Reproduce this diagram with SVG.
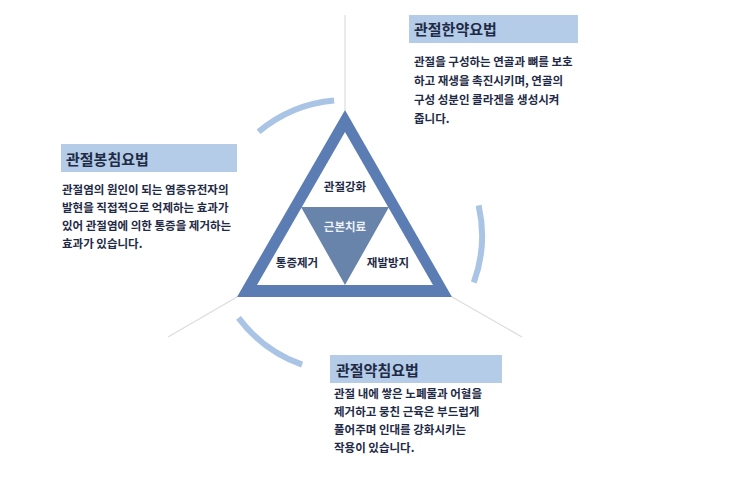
<svg xmlns="http://www.w3.org/2000/svg" width="740" height="477" viewBox="0 0 740 477">
<style>
.t{font-family:"Noto Sans CJK KR","Noto Sans",sans-serif;font-weight:700;fill:#1f2b46}
.title{font-size:15px}
.body{font-size:11.5px}
.lbl{font-size:11.5px;text-anchor:middle}
.box{fill:#b4cce8}
.arc{fill:none;stroke:#a9c4e4;stroke-width:6}
.ray{stroke:#dcdcdc;stroke-width:1.2;fill:none}
</style>
<rect width="740" height="477" fill="#ffffff"/>
<g id="connectors">
<line class="ray" x1="345" y1="15" x2="345" y2="110"/>
<line class="ray" x1="237" y1="297" x2="168" y2="337"/>
<line class="ray" x1="452" y1="297" x2="522" y2="337"/>
<path class="arc" d="M 258.6 131.8 A 136 136 0 0 1 334.1 100.5"/>
<path class="arc" d="M 478.6 205.4 A 136 136 0 0 1 473.8 282.5"/>
<path class="arc" d="M 238.5 317.9 A 136 136 0 0 0 302.1 364.7"/>
</g>
<g id="triangle">
<polygon points="345,110 452,297 237,297" fill="#5b7db3"/>
<polygon points="345,132 433,285 257,285" fill="#ffffff"/>
<polygon points="301,207 389,207 345,285" fill="#6884ab"/>
</g>
<g id="node-top"><text class="t lbl" x="345" y="191">관절강화</text></g>
<g id="node-center"><text class="t lbl" x="345" y="231" style="fill:#eef2f8">근본치료</text></g>
<g id="node-left"><text class="t lbl" x="297" y="267">통증제거</text></g>
<g id="node-right"><text class="t lbl" x="388" y="267">재발방지</text></g>
<g id="box-herbal">
<rect class="box" x="409" y="15" width="169" height="28"/>
<text class="t title" x="414" y="35">관절한약요법</text>
<text class="t body" x="414" y="66">관절을 구성하는 연골과 뼈를 보호</text>
<text class="t body" x="414" y="85">하고 재생을 촉진시키며, 연골의</text>
<text class="t body" x="414" y="104">구성 성분인 콜라겐을 생성시켜</text>
<text class="t body" x="414" y="123">줍니다.</text>
</g>
<g id="box-bee">
<rect class="box" x="61" y="144" width="176" height="28"/>
<text class="t title" x="66" y="165">관절봉침요법</text>
<text class="t body" x="62" y="194">관절염의 원인이 되는 염증유전자의</text>
<text class="t body" x="62" y="212">발현을 직접적으로 억제하는 효과가</text>
<text class="t body" x="62" y="230">있어 관절염에 의한 통증을 제거하는</text>
<text class="t body" x="62" y="248">효과가 있습니다.</text>
</g>
<g id="box-acu">
<rect class="box" x="330" y="355" width="172" height="28"/>
<text class="t title" x="336" y="376">관절약침요법</text>
<text class="t body" x="334" y="398">관절 내에 쌓은 노폐물과 어혈을</text>
<text class="t body" x="334" y="416">제거하고 뭉친 근육은 부드럽게</text>
<text class="t body" x="334" y="434">풀어주며 인대를 강화시키는</text>
<text class="t body" x="334" y="452">작용이 있습니다.</text>
</g>
</svg>
